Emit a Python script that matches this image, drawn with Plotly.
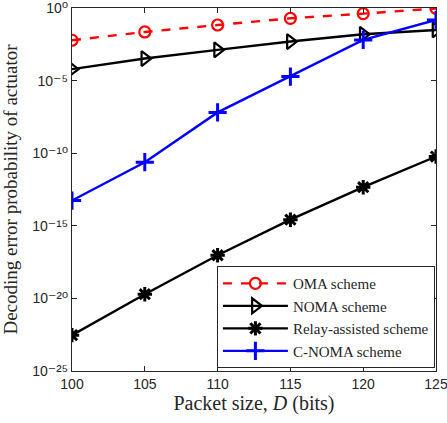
import plotly.graph_objects as go

packet_size = [100, 105, 110, 115, 120, 125]
oma = [10**-2.22, 10**-1.65, 10**-1.17, 10**-0.71, 10**-0.39, 10**-0.03]
noma = [10**-4.21, 10**-3.48, 10**-2.88, 10**-2.31, 10**-1.81, 10**-1.51]
relay = [10**-22.53, 10**-19.71, 10**-17.03, 10**-14.58, 10**-12.34, 10**-10.23]
cnoma = [10**-13.26, 10**-10.62, 10**-7.19, 10**-4.72, 10**-2.2, 10**-0.82]
ytick_vals = [1e-25, 1e-20, 1e-15, 1e-10, 1e-5, 1e0]
ytick_exps = ["⁻²⁵", "⁻²⁰", "⁻¹⁵", "⁻¹⁰", "⁻⁵", "⁰"]
xtick_vals = [100, 105, 110, 115, 120, 125]

ytick_text = ["10<span style='font-size:16px'>" + e + "</span>" for e in ytick_exps]

fig = go.Figure()
fig.add_trace(go.Scatter(x=packet_size, y=oma, name="OMA scheme", mode="lines+markers",
                         line=dict(color="red", width=2.4, dash="dash"),
                         marker=dict(symbol="circle-open", size=11, color="red", line=dict(width=2.2))))
fig.add_trace(go.Scatter(x=packet_size, y=noma, name="NOMA scheme", mode="lines+markers",
                         line=dict(color="black", width=2.4),
                         marker=dict(symbol="triangle-right-open", size=13, color="black", line=dict(width=2.2))))
fig.add_trace(go.Scatter(x=packet_size, y=relay, name="Relay-assisted scheme", mode="lines+markers",
                         line=dict(color="black", width=2.4),
                         marker=dict(symbol="asterisk-open", size=12, color="black", line=dict(width=3))))
fig.add_trace(go.Scatter(x=packet_size, y=cnoma, name="C-NOMA scheme", mode="lines+markers",
                         line=dict(color="blue", width=2.4),
                         marker=dict(symbol="cross-thin-open", size=13, color="blue", line=dict(width=3))))

axis_common = dict(showline=True, linecolor="#262626", linewidth=1, mirror="ticks",
                   ticks="inside", ticklen=5, tickcolor="#262626", showgrid=False, zeroline=False,
                   ticklabeloverflow="allow",
                   tickfont=dict(family="Liberation Sans, Arial, DejaVu Sans", size=14, color="#262626"))

fig.update_layout(
    width=447, height=423,
    margin=dict(l=72, r=11, t=8, b=52),
    plot_bgcolor="white", paper_bgcolor="white",
    xaxis=dict(range=[100, 125], tickvals=xtick_vals, automargin="bottom",
               title=dict(text="Packet size, <i>D</i> (bits)", standoff=2,
                          font=dict(family="Liberation Serif, DejaVu Serif", size=20, color="#262626")),
               **axis_common),
    yaxis=dict(type="log", range=[-25, 0], tickvals=ytick_vals, ticktext=ytick_text, automargin=False,
               title=dict(text="Decoding error probability of actuator",
                          font=dict(family="Liberation Serif, DejaVu Serif", size=19, color="#262626")),
               **axis_common),
    legend=dict(x=0.997, y=0.008, xanchor="right", yanchor="bottom",
                bgcolor="white", bordercolor="#262626", borderwidth=1,
                font=dict(family="Liberation Serif, DejaVu Serif", size=15, color="#262626"),
                tracegroupgap=0, itemwidth=65),
    showlegend=True,
)

fig.write_html("out.html", config={"displayModeBar": False},
               post_script="document.body.style.margin='0';")
